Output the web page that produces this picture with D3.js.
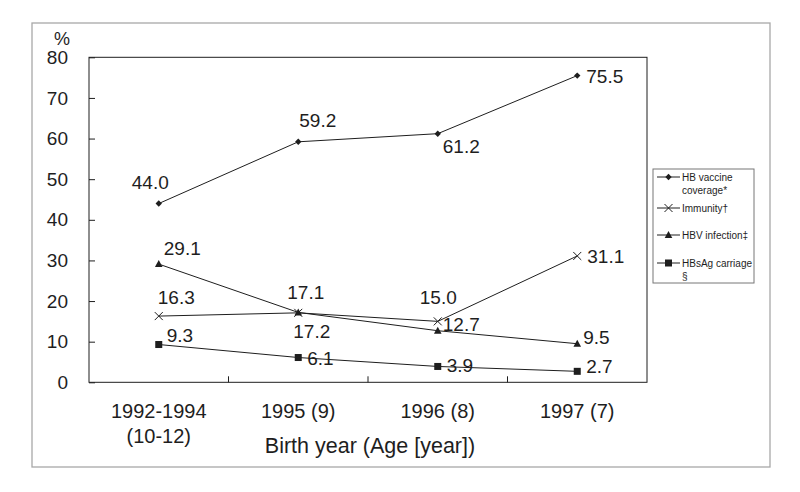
<!DOCTYPE html>
<html><head><meta charset="utf-8">
<script src="https://cdn.jsdelivr.net/npm/d3@7"></script>
<style>
html,body{margin:0;padding:0;background:#fff;}
text{font-family:"Liberation Sans",Arial,sans-serif;fill:#1e1e1e;}
</style></head>
<body><svg id="c" width="800" height="492"></svg>
<script>
// ---- data ----
const categories = ["1992-1994|(10-12)", "1995 (9)", "1996 (8)", "1997 (7)"];
const seriesNames = ["HB vaccine|coverage*", "Immunity\u2020", "HBV infection\u2021", "HBsAg carriage|\u00a7"];
const coverage = [44.0, 59.2, 61.2, 75.5];
const immunity = [16.3, 17.1, 15.0, 31.1];
const infection = [29.1, 17.2, 12.7, 9.5];
const carriage = [9.3, 6.1, 3.9, 2.7];
const yTicks = [0, 10, 20, 30, 40, 50, 60, 70, 80];
const yUnit = "%";
const xTitle = "Birth year (Age [year])";

// ---- layout / style ----
const svg = d3.select("#c");
const L = 89, R = 647, T = 57.3, B = 382.3;
const x = d3.scaleBand().domain(categories).range([L, R]).padding(0);
const y = d3.scaleLinear().domain([0, 80]).range([B, T]);
const cx = c => x(c) + x.bandwidth() / 2;
const ink = "#1e1e1e";

// outer frame
svg.append("rect").attr("x", 32).attr("y", 23).attr("width", 738).attr("height", 444)
  .attr("fill", "none").attr("stroke", "#a8a8a8").attr("stroke-width", 1.3);

// plot frame
svg.append("rect").attr("x", L).attr("y", T).attr("width", R - L).attr("height", B - T)
  .attr("fill", "none").attr("stroke", ink).attr("stroke-width", 1);

// y axis
const yAxis = d3.axisLeft(y).tickValues(yTicks).tickSizeInner(-6).tickSizeOuter(0).tickPadding(21);
const gy = svg.append("g").attr("transform", `translate(${L},0)`).call(yAxis);
gy.select(".domain").remove();
gy.selectAll("line").attr("stroke", ink);
gy.selectAll("text").attr("font-size", 19).attr("fill", ink).style("font-family", '"Liberation Sans",Arial,sans-serif');
svg.append("text").attr("x", 62).attr("y", 44.5).attr("text-anchor", "middle").attr("font-size", 18).text(yUnit);

// x axis ticks at band boundaries (inward)
categories.slice(1).forEach(c => {
  svg.append("line").attr("x1", x(c)).attr("x2", x(c)).attr("y1", B).attr("y2", B - 6).attr("stroke", ink);
});
categories.forEach(c => {
  const lines = c.split("|");
  const t = svg.append("text").attr("x", cx(c)).attr("y", 418).attr("text-anchor", "middle").attr("font-size", 20);
  lines.forEach((ln, i) => t.append("tspan").attr("x", cx(c)).attr("dy", i ? 25 : 0).text(ln));
});
svg.append("text").attr("x", 370).attr("y", 453).attr("text-anchor", "middle").attr("font-size", 21.5).text(xTitle);

// series
const allSeries = [coverage, immunity, infection, carriage];
const markers = ["diamond", "cross", "triangle", "square"];
const labelOffsets = [
  [[-27, -15], [1, -15], [5, 19], [9, 7]],
  [[-1, -12], [-11, -14], [-18, -17], [10, 7]],
  [[5, -9], [-5, 26], [5, 0], [6, 0]],
  [[8, -3], [9, 7], [9, 6], [9, 2]]
];

function drawMarker(g, type, px, py) {
  if (type === "diamond") {
    g.append("path").attr("d", `M${px},${py-3.2}L${px+3.2},${py}L${px},${py+3.2}L${px-3.2},${py}Z`).attr("fill", ink);
  } else if (type === "cross") {
    g.append("path").attr("d", `M${px-4},${py-4}L${px+4},${py+4}M${px-4},${py+4}L${px+4},${py-4}`).attr("stroke", ink).attr("stroke-width", 1).attr("fill", "none");
  } else if (type === "triangle") {
    g.append("path").attr("d", `M${px},${py-4}L${px+3.8},${py+3}L${px-3.8},${py+3}Z`).attr("fill", ink);
  } else {
    g.append("rect").attr("x", px - 3.5).attr("y", py - 3.5).attr("width", 7).attr("height", 7).attr("fill", ink);
  }
}

const line = d3.line().x((d, i) => cx(categories[i])).y(d => y(d));
allSeries.forEach((vals, si) => {
  const g = svg.append("g");
  g.append("path").attr("d", line(vals)).attr("fill", "none").attr("stroke", ink).attr("stroke-width", 1);
  vals.forEach((v, i) => drawMarker(g, markers[si], cx(categories[i]), y(v)));
});
allSeries.forEach((vals, si) => {
  vals.forEach((v, i) => {
    const o = labelOffsets[si][i];
    svg.append("text").attr("x", cx(categories[i]) + o[0]).attr("y", y(v) + o[1])
      .attr("font-size", 19).text(v.toFixed(1));
  });
});

// legend
svg.append("rect").attr("x", 653).attr("y", 169).attr("width", 101).attr("height", 114)
  .attr("fill", "#fff").attr("stroke", "#777").attr("stroke-width", 1);
const legY = [177, 208, 235, 263];
seriesNames.forEach((n, si) => {
  const g = svg.append("g");
  g.append("line").attr("x1", 657).attr("x2", 680).attr("y1", legY[si]).attr("y2", legY[si]).attr("stroke", ink);
  drawMarker(g, markers[si], 668.5, legY[si]);
  const t = svg.append("text").attr("x", 682).attr("y", legY[si] + 3.6).attr("font-size", 10);
  n.split("|").forEach((ln, i) => t.append("tspan").attr("x", 682).attr("dy", i ? 13 : 0).text(ln));
});
</script></body></html>
